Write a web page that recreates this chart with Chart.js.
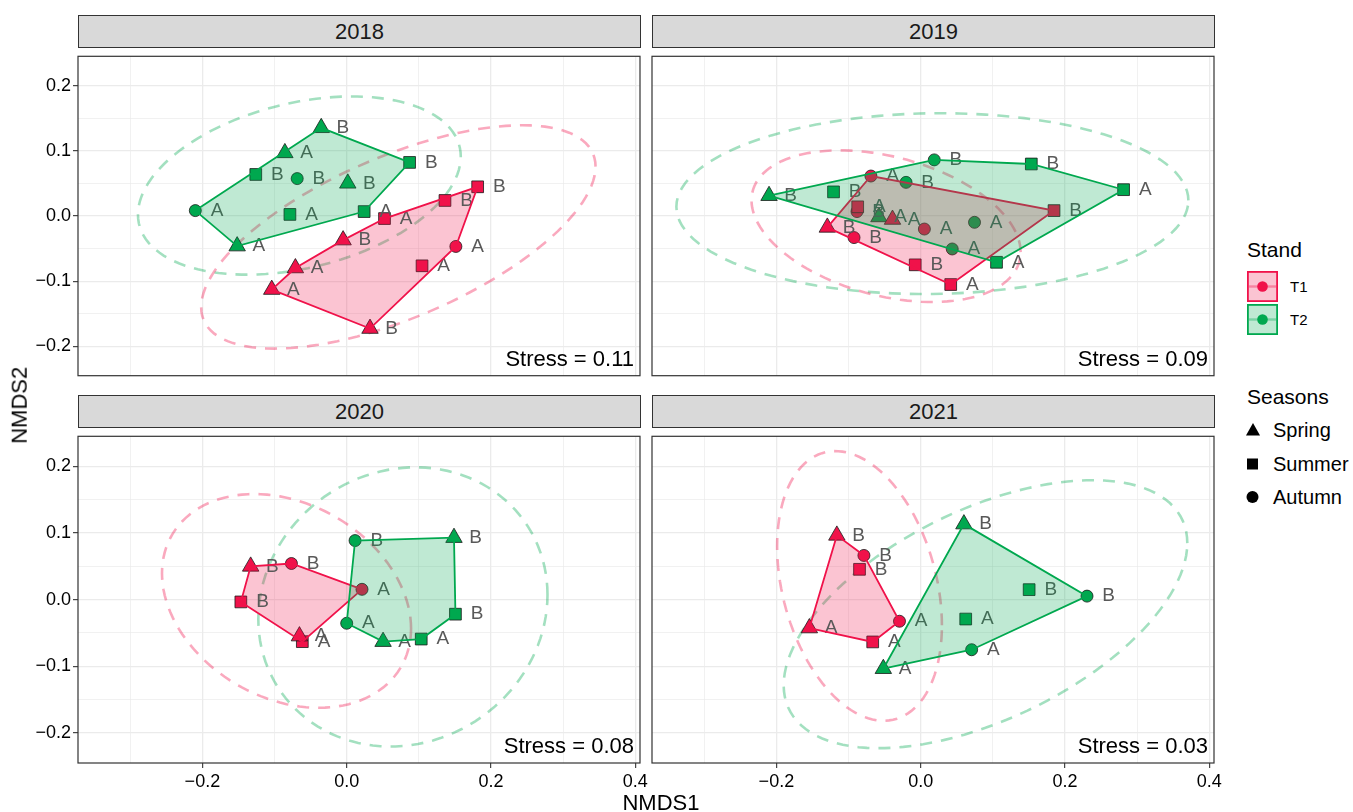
<!DOCTYPE html>
<html lang="en">
<head>
<meta charset="UTF-8">
<meta name="viewport" content="width=device-width, initial-scale=1.0">
<title>NMDS ordination by year</title>
<script src="https://cdn.jsdelivr.net/npm/chart.js"></script>
<style>
  body { margin: 0; background: #ffffff; font-family: "Liberation Sans", Arial, Helvetica, sans-serif; }
  #page { position: relative; width: 1353px; height: 812px; overflow: hidden; background: #fff; }
  .strip {
    position: absolute; box-sizing: border-box; height: 33px;
    background: #d9d9d9; border: 1px solid #333333;
    color: #1a1a1a; font-size: 22px; text-align: center; line-height: 31px;
  }
  .txt { position: absolute; white-space: nowrap; color: #000; }
  canvas { position: absolute; }
</style>
</head>
<body>
<div id="page"></div>

<script>
    // ---- values ----
    const YEARS = ['2018', '2019', '2020', '2021'];
    const STRESS = ['0.11', '0.09', '0.08', '0.03'];
    const STANDS = ['T1', 'T2'];
    const SEASONS = ['Spring', 'Summer', 'Autumn'];

    // 2018
    const x18T1 = [0.1815, 0.1362, 0.0524, 0.1513, 0.1044, -0.0050, -0.0711, -0.1039, 0.0323];
    const y18T1 = [0.0448, 0.0238, -0.0039, -0.0467, -0.0764, -0.0370, -0.0798, -0.1129, -0.1727];
    const s18T1 = ['Summer', 'Summer', 'Summer', 'Autumn', 'Summer', 'Spring', 'Spring', 'Spring', 'Spring'];
    const l18T1 = ['B', 'B', 'A', 'A', 'A', 'B', 'A', 'A', 'B'];
    const x18T2 = [-0.0353, -0.0857, -0.1260, -0.0686, 0.0015, 0.0872, -0.2098, -0.0787, 0.0242, -0.1518];
    const y18T2 = [0.1353, 0.0968, 0.0637, 0.0574, 0.0501, 0.0822, 0.0083, 0.0024, 0.0068, -0.0462];
    const s18T2 = ['Spring', 'Spring', 'Summer', 'Autumn', 'Spring', 'Summer', 'Autumn', 'Summer', 'Summer', 'Spring'];
    const l18T2 = ['B', 'A', 'B', 'B', 'B', 'B', 'A', 'A', 'A', 'A'];

    // 2019
    const x19T1 = [-0.0690, 0.1848, 0.0416, -0.0076, -0.0924, -0.1294, 0.0051, -0.0883, -0.0873, -0.0391];
    const y19T1 = [0.0613, 0.0083, -0.1051, -0.0749, -0.0331, -0.0175, -0.0200, 0.0068, 0.0141, -0.0054];
    const s19T1 = ['Autumn', 'Summer', 'Summer', 'Summer', 'Autumn', 'Spring', 'Autumn', 'Autumn', 'Summer', 'Spring'];
    const l19T1 = ['A', 'B', 'A', 'B', 'B', 'B', 'A', 'B', 'A', 'A'];
    const x19T2 = [-0.2102, -0.1208, 0.0188, 0.1533, 0.2812, -0.0203, 0.0746, 0.0437, 0.1051, -0.0579];
    const y19T2 = [0.0311, 0.0370, 0.0861, 0.0798, 0.0404, 0.0516, -0.0097, -0.0506, -0.0710, -0.0015];
    const s19T2 = ['Spring', 'Summer', 'Autumn', 'Summer', 'Summer', 'Autumn', 'Autumn', 'Autumn', 'Summer', 'Spring'];
    const l19T2 = ['B', 'B', 'B', 'B', 'A', 'B', 'A', 'A', 'A', 'A'];

    // 2020
    const x20T1 = [-0.1331, -0.0766, 0.0212, -0.1467, -0.0655, -0.0615];
    const y20T1 = [0.0499, 0.0542, 0.0155, -0.0034, -0.0547, -0.0630];
    const s20T1 = ['Spring', 'Autumn', 'Autumn', 'Summer', 'Spring', 'Summer'];
    const l20T1 = ['B', 'B', 'A', 'B', 'A', 'A'];
    const x20T2 = [0.0116, 0.1487, 0.1507, 0.1033, 0.0504, 0.0000];
    const y20T2 = [0.0886, 0.0930, -0.0218, -0.0591, -0.0630, -0.0354];
    const s20T2 = ['Autumn', 'Spring', 'Summer', 'Summer', 'Spring', 'Autumn'];
    const l20T2 = ['B', 'B', 'B', 'A', 'A', 'A'];

    // 2021
    const x21T1 = [-0.1162, -0.0787, -0.0848, -0.0294, -0.0665, -0.1543];
    const y21T1 = [0.0964, 0.0663, 0.0455, -0.0324, -0.0634, -0.0426];
    const s21T1 = ['Spring', 'Autumn', 'Summer', 'Autumn', 'Summer', 'Spring'];
    const l21T1 = ['B', 'B', 'B', 'A', 'A', 'A'];
    const x21T2 = [0.0599, 0.1503, 0.2305, 0.0624, 0.0706, -0.0518];
    const y21T2 = [0.1133, 0.0150, 0.0053, -0.0291, -0.0751, -0.1036];
    const s21T2 = ['Spring', 'Summer', 'Autumn', 'Summer', 'Autumn', 'Spring'];
    const l21T2 = ['B', 'B', 'B', 'A', 'A', 'A'];

    // confidence ellipses: centre x, centre y, x half-extent, y half-extent, phase (deg)
    const ell18T1 = [0.0716, -0.0321, 0.2733, 0.1713, 51];
    const ell18T2 = [-0.0656, 0.0467, 0.2237, 0.1367, 71];
    const ell19T1 = [-0.0480, -0.0156, 0.1865, 0.1163, 110];
    const ell19T2 = [0.0162, 0.0190, 0.3548, 0.1387, 88];
    const ell20T1 = [-0.0834, -0.0019, 0.1726, 0.1603, 105];
    const ell20T2 = [0.0779, -0.0109, 0.2004, 0.2094, 85];
    const ell21T1 = [-0.0848, 0.0206, 0.1142, 0.2022, 107];
    const ell21T2 = [0.0898, -0.0218, 0.2797, 0.2010, 58];

    // axis limits and breaks
    const X_RANGE = [-0.3724, 0.4065];
    const Y_RANGE = [-0.245, 0.245];
    const X_BREAKS = [-0.3, -0.2, -0.1, 0, 0.1, 0.2, 0.3, 0.4];
    const Y_BREAKS = [-0.2, -0.15, -0.1, -0.05, 0, 0.05, 0.1, 0.15, 0.2];
    const LABEL_NUDGE = 0.03;

    const DATA = {
        '2018': { T1: { x: x18T1, y: y18T1, s: s18T1, l: l18T1, ell: ell18T1 }, T2: { x: x18T2, y: y18T2, s: s18T2, l: l18T2, ell: ell18T2 } },
        '2019': { T1: { x: x19T1, y: y19T1, s: s19T1, l: l19T1, ell: ell19T1 }, T2: { x: x19T2, y: y19T2, s: s19T2, l: l19T2, ell: ell19T2 } },
        '2020': { T1: { x: x20T1, y: y20T1, s: s20T1, l: l20T1, ell: ell20T1 }, T2: { x: x20T2, y: y20T2, s: s20T2, l: l20T2, ell: ell20T2 } },
        '2021': { T1: { x: x21T1, y: y21T1, s: s21T1, l: l21T1, ell: ell21T1 }, T2: { x: x21T2, y: y21T2, s: s21T2, l: l21T2, ell: ell21T2 } }
    };

    // ---- styling ----
    const FONT = '"Liberation Sans", Arial, Helvetica, sans-serif';
    Chart.defaults.font.family = FONT;
    const COL = ['#f0124a', '#00a84f'];
    const FILL = ['rgba(240,18,74,0.25)', 'rgba(0,168,79,0.25)'];
    const ELL_COL = ['rgba(240,18,74,0.36)', 'rgba(0,168,79,0.36)'];
    const SHAPE = { Spring: 'triangle', Summer: 'rect', Autumn: 'circle' };
    const RADIUS = { Spring: 9.5, Summer: 8.3, Autumn: 6 };

    // plot areas of the four facets (page pixels)
    const PANELS = [
        { left: 78, top: 48, w: 562, h: 336, yLab: true, xLab: false },
        { left: 652, top: 48, w: 562, h: 336, yLab: false, xLab: false },
        { left: 78, top: 428, w: 562, h: 335, yLab: true, xLab: true },
        { left: 652, top: 428, w: 562, h: 335, yLab: false, xLab: true }
    ];

    const page = document.getElementById('page');

    function fmt(v) {
        const r = Math.round(v * 10) / 10;
        const s = Math.abs(r).toFixed(1);
        return r < 0 ? '\u2212' + s : s;
    }
    const isMajorX = v => Math.abs(Math.round(v * 10)) % 2 === 0;
    const isMajorY = v => Math.abs(v * 10 - Math.round(v * 10)) < 1e-6;

    function convexHull(xs, ys) {
        const pts = xs.map((x, i) => ({ x: x, y: ys[i] })).sort((a, b) => a.x - b.x || a.y - b.y);
        const cross = (o, a, b) => (a.x - o.x) * (b.y - o.y) - (a.y - o.y) * (b.x - o.x);
        const lower = [], upper = [];
        for (const p of pts) {
            while (lower.length >= 2 && cross(lower[lower.length - 2], lower[lower.length - 1], p) <= 0) lower.pop();
            lower.push(p);
        }
        for (const p of pts.slice().reverse()) {
            while (upper.length >= 2 && cross(upper[upper.length - 2], upper[upper.length - 1], p) <= 0) upper.pop();
            upper.push(p);
        }
        const h = lower.slice(0, -1).concat(upper.slice(0, -1));
        h.push(h[0]);
        return h.map(p => ({ x: p.x, y: p.y }));
    }

    function ellipseOutline(e) {
        const [cx, cy, ax, ay, ph] = e;
        const p = ph * Math.PI / 180;
        const out = [];
        for (let k = 0; k <= 120; k++) {
            const t = 2 * Math.PI * k / 120;
            out.push({ x: cx + ax * Math.cos(t), y: cy + ay * Math.cos(t - p) });
        }
        return out;
    }

    function axisCfg(breaks, range, isMajor, showLabels, size, horiz) {
        return {
            type: 'linear',
            min: range[0],
            max: range[1],
            afterBuildTicks: s => { s.ticks = breaks.map(v => ({ value: v })); },
            afterFit: s => {
                if (horiz) s.height = size; else s.width = size;
                s.paddingLeft = 0; s.paddingRight = 0; s.paddingTop = 0; s.paddingBottom = 0;
            },
            border: { display: false },
            grid: {
                color: '#ebebeb',
                lineWidth: c => (c.tick && isMajor(c.tick.value)) ? 1.3 : 0.7,
                drawTicks: showLabels,
                tickLength: 5,
                tickWidth: 1.1,
                tickColor: c => (c.tick && isMajor(c.tick.value)) ? '#333333' : 'rgba(0,0,0,0)'
            },
            ticks: {
                display: showLabels,
                autoSkip: false,
                maxRotation: 0,
                padding: horiz ? 3 : 2,
                color: '#000000',
                font: { size: 18 },
                callback: v => isMajor(v) ? fmt(v) : ''
            }
        };
    }

    // labels, panel frame and stress annotation
    const panelDeco = {
        id: 'panelDeco',
        beforeDatasetDraw(chart, args) {
            if (chart.data.datasets[args.index].role !== 'hullT1') return;
            const year = YEARS[+chart.canvas.dataset.idx];
            const { ctx } = chart;
            const sx = chart.scales.x, sy = chart.scales.y;
            ctx.save();
            ctx.font = '19px ' + FONT;
            ctx.fillStyle = '#595959';
            ctx.textAlign = 'center';
            ctx.textBaseline = 'middle';
            STANDS.forEach(st => {
                const g = DATA[year][st];
                g.x.forEach((v, j) => {
                    ctx.fillText(g.l[j], sx.getPixelForValue(v + LABEL_NUDGE), sy.getPixelForValue(g.y[j]));
                });
            });
            ctx.restore();
        },
        afterDraw(chart) {
            const { ctx, chartArea: a } = chart;
            const idx = +chart.canvas.dataset.idx;
            ctx.save();
            ctx.strokeStyle = '#333333';
            ctx.lineWidth = 1.2;
            ctx.strokeRect(a.left, a.top, a.right - a.left, a.bottom - a.top);
            ctx.font = '22px ' + FONT;
            ctx.fillStyle = '#000000';
            ctx.textAlign = 'right';
            ctx.textBaseline = 'alphabetic';
            ctx.fillText('Stress = ' + STRESS[idx], a.right - 6, a.bottom - 10);
            ctx.restore();
        }
    };

    function makePanel(i) {
        const year = YEARS[i];
        const P = PANELS[i];
        const yW = P.yLab ? 78 : 0;
        const xH = P.xLab ? 36 : 0;
        const padL = P.yLab ? 0 : 12;
        const cvLeft = P.left - yW - padL;
        const cvW = (P.left - cvLeft) + P.w + 12;
        const cvH = 2 + P.h + (P.xLab ? xH : 2);

        // strip header
        const strip = document.createElement('div');
        strip.className = 'strip';
        strip.style.left = P.left + 'px';
        strip.style.top = (P.top - 33) + 'px';
        strip.style.width = (P.w + 1) + 'px';
        strip.textContent = year;
        page.appendChild(strip);

        const cv = document.createElement('canvas');
        cv.width = cvW;
        cv.height = cvH;
        cv.style.left = cvLeft + 'px';
        cv.style.top = (P.top - 2) + 'px';
        cv.style.width = cvW + 'px';
        cv.style.height = cvH + 'px';
        cv.dataset.idx = i;
        page.appendChild(cv);

        const datasets = [];
        STANDS.forEach((st, k) => {
            datasets.push({
                data: ellipseOutline(DATA[year][st].ell),
                showLine: true, pointRadius: 0, fill: false, tension: 0,
                borderColor: ELL_COL[k], borderWidth: 2.6, borderDash: [12, 9],
                order: 4
            });
        });
        STANDS.forEach((st, k) => {
            const g = DATA[year][st];
            SEASONS.forEach(se => {
                const pts = [];
                g.x.forEach((v, j) => { if (g.s[j] === se) pts.push({ x: v, y: g.y[j] }); });
                datasets.push({
                    data: pts,
                    showLine: false,
                    pointStyle: SHAPE[se],
                    pointRadius: RADIUS[se],
                    pointBackgroundColor: COL[k],
                    pointBorderColor: '#1a1a1a',
                    pointBorderWidth: 0.8,
                    order: 3
                });
            });
        });
        STANDS.forEach((st, k) => {
            const g = DATA[year][st];
            datasets.push({
                role: 'hull' + st,
                data: convexHull(g.x, g.y),
                showLine: true, pointRadius: 0, tension: 0,
                borderColor: COL[k], borderWidth: 1.8,
                backgroundColor: FILL[k], fill: 'shape',
                order: 2 - k
            });
        });

        new Chart(cv.getContext('2d'), {
            type: 'scatter',
            data: { datasets: datasets },
            options: {
                responsive: false,
                animation: false,
                events: [],
                layout: { padding: { top: 2, right: 12, bottom: P.xLab ? 0 : 2, left: padL } },
                plugins: { legend: { display: false }, tooltip: { enabled: false } },
                scales: {
                    x: axisCfg(X_BREAKS, X_RANGE, isMajorX, P.xLab, xH, true),
                    y: axisCfg(Y_BREAKS, Y_RANGE, isMajorY, P.yLab, yW, false)
                }
            },
            plugins: [panelDeco]
        });
    }

    YEARS.forEach((y, i) => makePanel(i));

    // ---- axis titles and legend (real text) ----
    function addText(str, x, cy, size, opts) {
        opts = opts || {};
        const d = document.createElement('div');
        d.className = 'txt';
        d.textContent = str;
        d.style.fontSize = size + 'px';
        d.style.lineHeight = (size * 1.3) + 'px';
        d.style.height = (size * 1.3) + 'px';
        d.style.top = (cy - size * 0.65) + 'px';
        if (opts.center) {
            d.style.left = (x - 100) + 'px';
            d.style.width = '200px';
            d.style.textAlign = 'center';
        } else {
            d.style.left = x + 'px';
        }
        if (opts.rotate) d.style.transform = 'rotate(-90deg)';
        page.appendChild(d);
    }

    addText('NMDS1', 661, 803, 22, { center: true });
    addText('NMDS2', 20, 405, 22, { center: true, rotate: true });

    addText('Stand', 1247, 250, 21);
    addText('T1', 1290, 286.5, 15);
    addText('T2', 1290, 320, 15);
    addText('Seasons', 1247, 397, 21);
    addText('Spring', 1273, 430, 20);
    addText('Summer', 1273, 464, 20);
    addText('Autumn', 1273, 497, 20);

    const NS = 'http://www.w3.org/2000/svg';
    const svg = document.createElementNS(NS, 'svg');
    svg.setAttribute('width', '110');
    svg.setAttribute('height', '260');
    svg.style.position = 'absolute';
    svg.style.left = '1240px';
    svg.style.top = '260px';
    page.appendChild(svg);
    function el(tag, attrs) {
        const e = document.createElementNS(NS, tag);
        Object.keys(attrs).forEach(k => e.setAttribute(k, attrs[k]));
        svg.appendChild(e);
    }
    // stand keys (page y 271 and 304 -> local minus 260)
    [11, 44].forEach((ty, k) => {
        el('rect', { x: 7.9, y: ty + 0.9, width: 29.2, height: 29.2, fill: FILL[k], stroke: COL[k], 'stroke-width': 1.8 });
        el('line', { x1: 9, x2: 36, y1: ty + 15.5, y2: ty + 15.5, stroke: ELL_COL[k], 'stroke-width': 2.4 });
        el('circle', { cx: 22.5, cy: ty + 15.5, r: 5.3, fill: COL[k] });
    });
    // season keys
    el('polygon', { points: '13,163 6,175.5 20,175.5', fill: '#000' });
    el('rect', { x: 7, y: 198.5, width: 11, height: 11, fill: '#000' });
    el('circle', { cx: 12.5, cy: 237, r: 6, fill: '#000' });
</script>
</body>
</html>
